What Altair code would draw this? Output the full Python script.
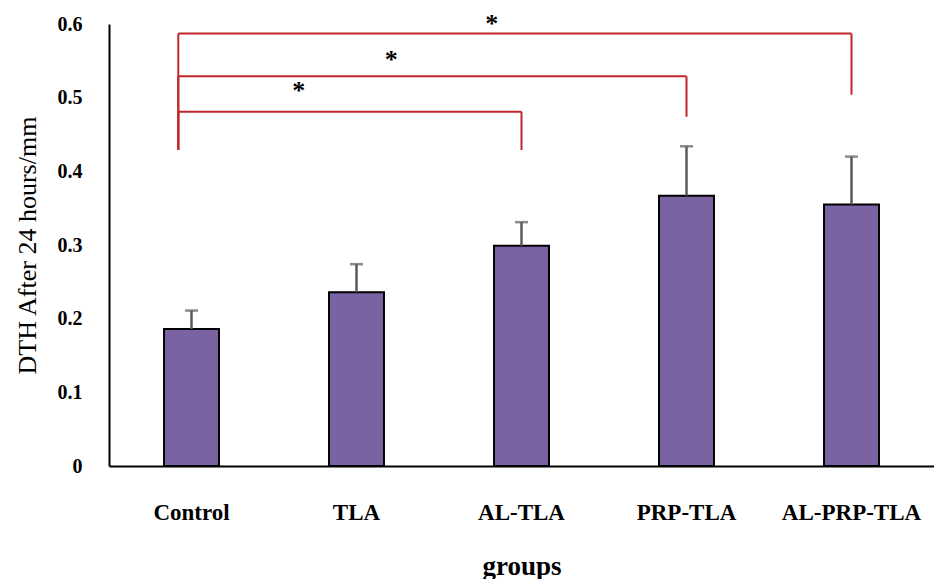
import altair as alt
import pandas as pd

# ---- data ----
groups = ["Control", "TLA", "AL-TLA", "PRP-TLA", "AL-PRP-TLA"]
means = [0.186, 0.236, 0.299, 0.367, 0.355]
err_top = [0.211, 0.274, 0.331, 0.434, 0.420]

# significance brackets (position index on the group axis, values on y axis)
br_start = [0.42, 0.42, 0.42]
br_end = [2.5, 3.5, 4.5]
br_level = [0.481, 0.529, 0.587]
br_drop = [0.429, 0.474, 0.504]
br_left_low = [0.429, 0.429, 0.429]
star_x = [1.15, 1.71, 2.32]
star_y = [0.516, 0.558, 0.607]

FONT = "Liberation Serif"
RED = "#c0272d"
YTITLE = "DTH After 24 hours/mm"

bars_df = pd.DataFrame({"group": groups, "mean": means, "err": err_top})
br_df = pd.DataFrame({"x0": br_start, "x1": br_end, "y": br_level,
                      "ydrop": br_drop, "ylow": br_left_low})
star_df = pd.DataFrame({"x": star_x, "y": star_y, "t": ["*"] * len(star_x)})

W, H = 825, 442
yscale = alt.Scale(domain=[0, 0.6], nice=False, zero=True)
xq = alt.Scale(domain=[0, len(groups)], nice=False, zero=False)

yaxis = alt.Axis(title=YTITLE, values=[0, 0.1, 0.2, 0.3, 0.4, 0.5, 0.6],
                 format="~g", ticks=False, grid=False,
                 domainColor="black", domainWidth=2,
                 labelFont=FONT, labelFontSize=20, labelFontWeight="bold",
                 labelColor="black", labelPadding=27,
                 titleFont=FONT, titleFontSize=26, titleFontWeight="normal",
                 titleColor="black", titlePadding=17)

base = alt.Chart(bars_df)

bars = base.mark_bar(color="#7b63a3", stroke="black", strokeWidth=2).encode(
    x=alt.X("group:N", sort=groups,
            scale=alt.Scale(paddingInner=0.667, paddingOuter=0.3335),
            axis=alt.Axis(title="groups", labelAngle=0, ticks=False,
                          domainColor="black", domainWidth=2,
                          labelFont=FONT, labelFontSize=23, labelFontWeight="bold",
                          labelColor="black", labelPadding=35,
                          titleFont=FONT, titleFontSize=27, titleFontWeight="bold",
                          titleColor="black", titlePadding=29)),
    y=alt.Y("mean:Q", scale=yscale, axis=yaxis),
)

err_line = base.mark_rule(color="#5a5a5a", strokeWidth=2.5).encode(
    x=alt.X("group:N", sort=groups),
    y=alt.Y("mean:Q", scale=yscale, axis=yaxis),
    y2="err:Q",
)
err_cap = base.mark_tick(color="#5a5a5a", thickness=2.5, size=13, orient="horizontal").encode(
    x=alt.X("group:N", sort=groups),
    y=alt.Y("err:Q", scale=yscale, axis=yaxis),
)

bar_layer = alt.layer(bars, err_line, err_cap)

bc = alt.Chart(br_df)
h_lines = bc.mark_rule(color=RED, strokeWidth=2).encode(
    x=alt.X("x0:Q", scale=xq, axis=None), x2="x1:Q",
    y=alt.Y("y:Q", scale=yscale, axis=yaxis))
r_drops = bc.mark_rule(color=RED, strokeWidth=2).encode(
    x=alt.X("x1:Q", scale=xq, axis=None),
    y=alt.Y("y:Q", scale=yscale, axis=yaxis), y2="ydrop:Q")
l_drops = bc.mark_rule(color=RED, strokeWidth=2).encode(
    x=alt.X("x0:Q", scale=xq, axis=None),
    y=alt.Y("y:Q", scale=yscale, axis=yaxis), y2="ylow:Q")
stars = alt.Chart(star_df).mark_text(font=FONT, fontSize=26, fontWeight="bold",
                                     color="black", baseline="alphabetic", dy=13).encode(
    x=alt.X("x:Q", scale=xq, axis=None),
    y=alt.Y("y:Q", scale=yscale, axis=yaxis),
    text="t:N")

ann = alt.layer(h_lines, r_drops, l_drops, stars)

chart = alt.layer(bar_layer, ann).resolve_scale(x="independent").properties(
    width=W, height=H,
    padding={"left": 6, "top": 2, "right": 0, "bottom": 0},
).configure_view(stroke=None).configure_axis(grid=False, labelFont=FONT, titleFont=FONT)

chart.save("out.html", embed_options={"renderer": "svg", "actions": False})
